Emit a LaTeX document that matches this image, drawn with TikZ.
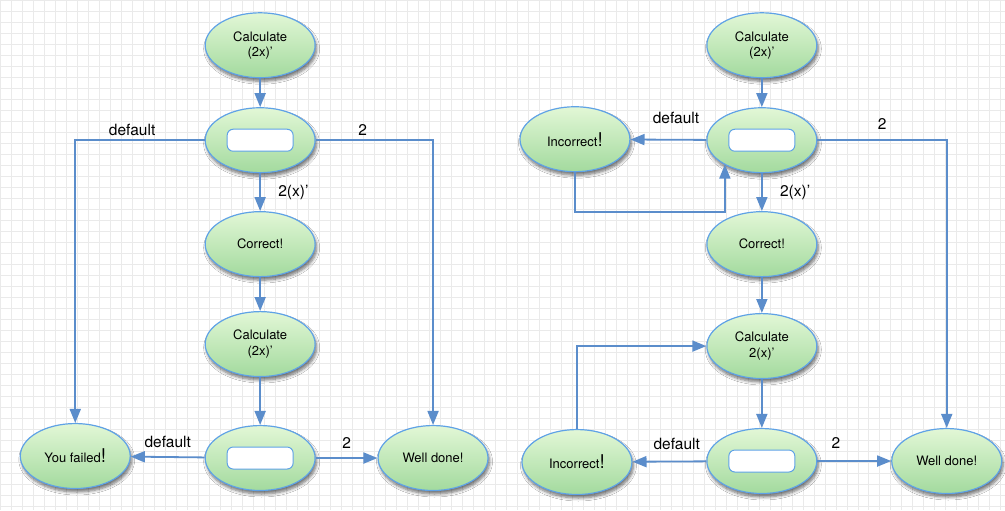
\documentclass[tikz,border=0pt]{standalone}
\usepackage{fontspec}
\setmainfont{TeX Gyre Heros}
\usetikzlibrary{shapes.geometric,arrows.meta,shadows.blur}
\definecolor{edgeblue}{HTML}{5B8DCB}
\definecolor{rimblue}{HTML}{5FA2E6}
\definecolor{lightgreen}{HTML}{E2F7D6}
\definecolor{darkgreen}{HTML}{A3DA9E}
\definecolor{gridgray}{HTML}{EAEAEA}
\newcommand{\bigexcl}{{\fontsize{19}{19}\selectfont !}}
\tikzset{
	state/.style={ellipse,draw=rimblue,line width=1.2pt,top color=lightgreen,bottom color=darkgreen,minimum width=110pt,minimum height=65pt,inner sep=0,align=center,font=\fontsize{13}{15.5}\selectfont,blur shadow={shadow xshift=1.5pt,shadow yshift=-3.5pt,shadow opacity=55,shadow blur steps=6,shadow blur radius=3pt}},
	input/.style={state,path picture={\draw[rimblue,fill=white,line width=1pt,rounded corners=6pt] ([shift={(-33pt,-11pt)}]path picture bounding box.center) rectangle ([shift={(33pt,11pt)}]path picture bounding box.center);}},
	arr/.style={draw=edgeblue,line width=1.8pt,-{Triangle[length=14pt,width=11pt]}},
	lbl/.style={font=\fontsize{15.5}{18}\selectfont}
}
\begin{document}
\begin{tikzpicture}[x=1pt,y=-1pt]
	\fill[white] (0,0) rectangle (1005,510);
	\draw[gridgray,line width=0.6pt] (0,0) grid[step=11pt] (1005,510);
	\useasboundingbox (0,0) rectangle (1005,510);
	\node[state] (c1) at (260,45) {Calculate\\(2x)'};
	\node[input] (b1) at (260,140) {};
	\node[state] (ok1) at (260,244) {Correct!};
	\node[state] (c2) at (260,344) {Calculate\\(2x)'};
	\node[input] (b2) at (260,458) {};
	\node[state] (f1) at (75,456) {You failed\bigexcl};
	\node[state] (w1) at (433,458) {Well done!};
	\node[state] (c3) at (762,45) {Calculate\\(2x)'};
	\node[input] (b3) at (762,140) {};
	\node[state] (i1) at (575,139) {Incorrect\bigexcl};
	\node[state] (ok2) at (762,244) {Correct!};
	\node[state] (c4) at (762,346) {Calculate\\2(x)'};
	\node[input] (b4) at (762,461) {};
	\node[state] (i2) at (577,462) {Incorrect\bigexcl};
	\node[state] (w2) at (947,461) {Well done!};
	\coordinate (r1) at (725,212);
	\draw[arr] (c1) -- (b1);
	\draw[arr] (b1) -- node[lbl,right,xshift=14pt]{2(x)'} (ok1);
	\draw[arr] (b1.west) -| node[lbl,above,pos=0.28]{default} (f1.north);
	\draw[arr] (b1.east) -| node[lbl,above,pos=0.2]{2} (w1.north);
	\draw[arr] (ok1) -- (c2);
	\draw[arr] (c2) -- (b2);
	\draw[arr] (b2) -- node[lbl,above,yshift=5pt]{default} (f1);
	\draw[arr] (b2) -- node[lbl,above,yshift=5pt]{2} (w1);
	\draw[arr] (c3) -- (b3);
	\draw[arr] (b3) -- node[lbl,above,pos=0.4,yshift=12pt]{default} (i1);
	\draw[arr] (i1.south) |- (r1) -- (r1 |- b3.213);
	\draw[arr] (b3.east) -| node[lbl,above,pos=0.25,yshift=6pt]{2} (w2.north);
	\draw[arr] (b3) -- node[lbl,right,xshift=14pt]{2(x)'} (ok2);
	\draw[arr] (ok2) -- (c4);
	\draw[arr] (c4) -- (b4);
	\draw[arr] (b4) -- node[lbl,above,pos=0.4,yshift=8pt]{default} (i2);
	\draw[arr] (i2.north) |- (c4.west);
	\draw[arr] (b4) -- node[lbl,above,pos=0.25,yshift=8pt]{2} (w2);
\end{tikzpicture}
\end{document}
